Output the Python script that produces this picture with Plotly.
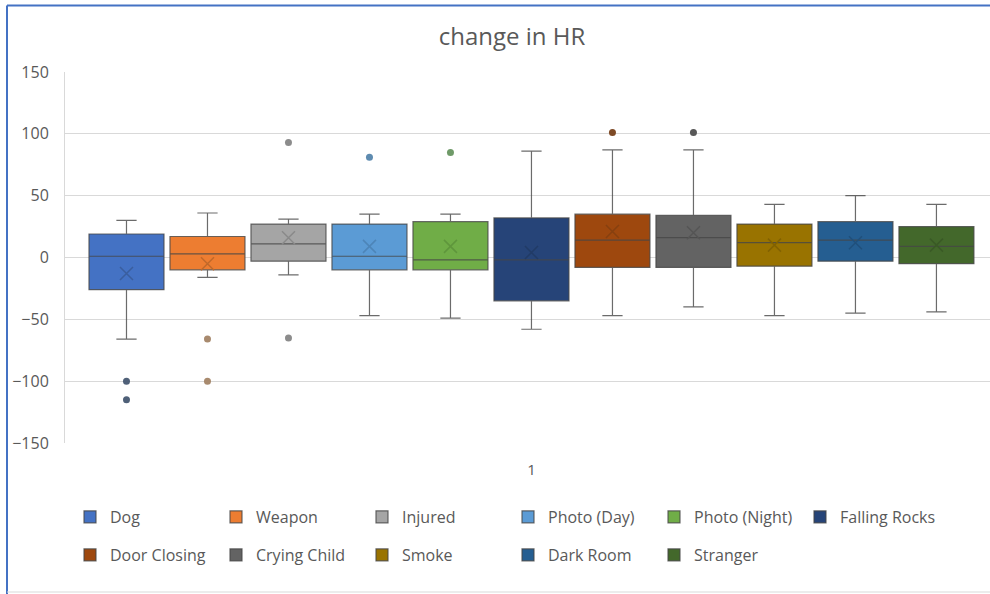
import plotly.graph_objects as go

# ---------------- data ----------------
categories = ["Dog", "Weapon", "Injured", "Photo (Day)", "Photo (Night)", "Falling Rocks",
              "Door Closing", "Crying Child", "Smoke", "Dark Room", "Stranger"]
q1_vals     = [-26, -10,  -3, -10, -10, -35,  -8,  -8,  -7,  -3,  -5]
median_vals = [  1,   3,  11,   1,  -2,  -2,  14,  16,  12,  14,   9]
q3_vals     = [ 19,  17,  27,  27,  29,  32,  35,  34,  27,  29,  25]
lower_vals  = [-66, -16, -14, -47, -49, -58, -47, -40, -47, -45, -44]
upper_vals  = [ 30,  36,  31,  35,  35,  86,  87,  87,  43,  50,  43]
mean_vals   = [-13,  -5,  16,   9,   9,   4,  21,  20,  10,  12,  10]
outlier_vals = [[-100, -115], [-66, -100], [93, -65], [81], [85], [],
                [101], [101], [], [], []]
x_label = "1"
y_ticks = [-150, -100, -50, 0, 50, 100, 150]

# ---------------- style ----------------
fill_colors = ["#4472C4", "#ED7D31", "#A5A5A5", "#5B9BD5", "#70AD47", "#264478",
               "#9E480E", "#636363", "#997300", "#255E91", "#43682B"]
mean_colors = ["#3a5e9e", "#c0692a", "#8a8a8a", "#4d85b8", "#5f963c", "#213b66",
               "#86400f", "#555555", "#826200", "#20507c", "#3a5a26"]
point_colors = ["#4f6078", "#a88a6e", "#8c8c8c", "#5e8bb0", "#6f9a68", "#334a6e",
                "#7e4a26", "#585858", "#7a6a3a", "#355e80", "#4d6840"]
TXT = "#595959"
FONT = "Open Sans, Liberation Sans, sans-serif"

W, H = 990, 594
ML, MR, MT, MB = 65, 0, 72, 151
PW, PH = W - ML - MR, H - MT - MB


def px_x(px):
    return (px - ML) / PW


def px_y(py):
    return (H - MB - py) / PH


fig = go.Figure()

for i, name in enumerate(categories):
    legend_id = "legend" if i < 6 else "legend2"
    fig.add_trace(go.Box(
        name=name,
        x=[x_label],
        q1=[q1_vals[i]], median=[median_vals[i]], q3=[q3_vals[i]],
        lowerfence=[lower_vals[i]], upperfence=[upper_vals[i]],
        fillcolor=fill_colors[i],
        line=dict(color="rgba(70,70,70,0.8)", width=1.2),
        whiskerwidth=0.27,
        offsetgroup=name,
        boxpoints=False,
        legend=legend_id,
        hoverinfo="skip",
    ))
    # mean marker (X)
    fig.add_trace(go.Box(
        name=name + " mean",
        x=[x_label], y=[mean_vals[i]],
        offsetgroup=name,
        boxpoints="all", jitter=0, pointpos=0,
        fillcolor="rgba(0,0,0,0)",
        line=dict(color="rgba(0,0,0,0)", width=0),
        marker=dict(symbol="x-thin-open", size=13,
                    line=dict(color=mean_colors[i], width=1.5),
                    color=mean_colors[i]),
        showlegend=False, hoverinfo="skip",
    ))
    if outlier_vals[i]:
        fig.add_trace(go.Box(
            name=name + " outliers",
            x=[x_label] * len(outlier_vals[i]), y=outlier_vals[i],
            offsetgroup=name,
            boxpoints="all", jitter=0, pointpos=0,
            fillcolor="rgba(0,0,0,0)",
            line=dict(color="rgba(0,0,0,0)", width=0),
            marker=dict(symbol="circle", size=7, color=point_colors[i]),
            showlegend=False, hoverinfo="skip",
        ))

# frame lines of the screenshot (blue selection border + bottom rule)
shapes = [
    dict(type="line", xref="paper", yref="paper",
         x0=px_x(7), x1=px_x(7), y0=px_y(5.5), y1=px_y(H),
         line=dict(color="#4472C4", width=2)),
    dict(type="line", xref="paper", yref="paper",
         x0=px_x(7), x1=px_x(W), y0=px_y(5.5), y1=px_y(5.5),
         line=dict(color="#4472C4", width=2)),
    dict(type="line", xref="paper", yref="paper",
         x0=px_x(7), x1=px_x(W), y0=px_y(592), y1=px_y(592),
         line=dict(color="#D9D9D9", width=1)),
]

legend_common = dict(
    orientation="h", x=px_x(70), xanchor="left", yanchor="middle",
    entrywidth=101, entrywidthmode="pixels",
    font=dict(family=FONT, size=16, color=TXT),
    bgcolor="rgba(0,0,0,0)", traceorder="normal",
)

fig.update_layout(
    width=W, height=H,
    margin=dict(l=ML, r=MR, t=MT, b=MB, pad=0),
    paper_bgcolor="white", plot_bgcolor="white",
    boxmode="group", boxgap=0.045, boxgroupgap=0.074,
    title=dict(text="change in HR", x=512 / W, xanchor="center",
               y=1 - 37 / H, yanchor="middle", yref="container",
               font=dict(family=FONT, size=24, color=TXT)),
    legend=dict(y=px_y(517), **legend_common),
    legend2=dict(y=px_y(555), **legend_common),
    shapes=shapes,
    font=dict(family=FONT, color=TXT),
)

fig.update_yaxes(
    range=[-150, 150], tickvals=y_ticks, showgrid=True,
    gridcolor="#D9D9D9", gridwidth=1, zeroline=False,
    showline=True, linecolor="#D9D9D9", linewidth=1,
    ticks="", ticklabelstandoff=12,
    tickfont=dict(family=FONT, size=16, color=TXT),
)
fig.update_xaxes(
    type="category", range=[-0.5, 0.4915], showgrid=False, zeroline=False,
    showline=False, ticks="", ticklabelstandoff=16,
    tickfont=dict(family=FONT, size=15, color=TXT),
)

fig.write_html("out.html")
